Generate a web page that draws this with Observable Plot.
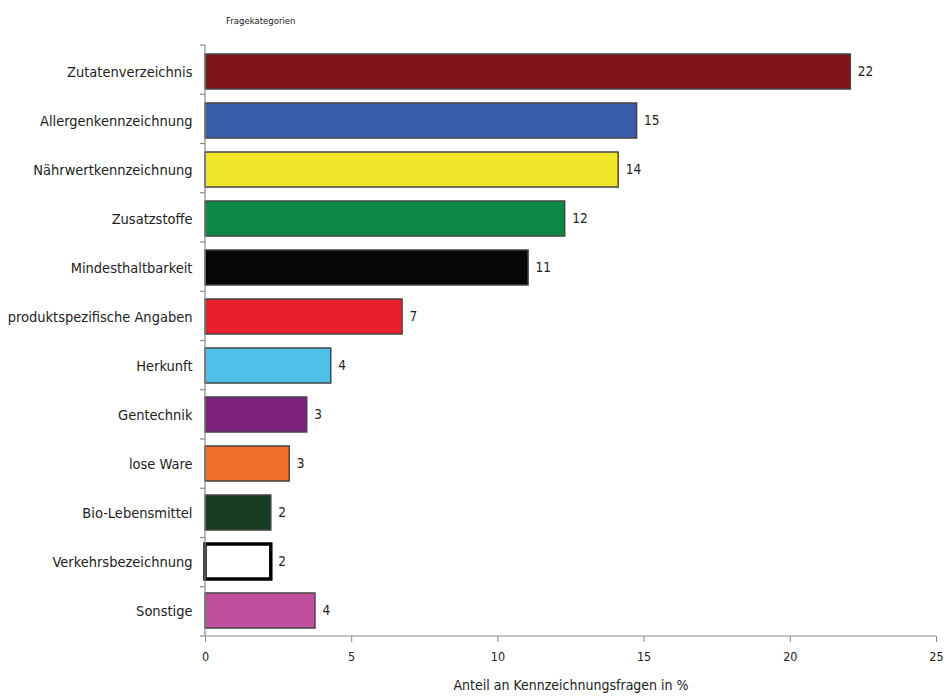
<!DOCTYPE html>
<html>
<head>
<meta charset="utf-8">
<script src="https://cdn.jsdelivr.net/npm/d3@7"></script>
<script src="https://cdn.jsdelivr.net/npm/@observablehq/plot@0.6"></script>
<style>
  html, body { margin: 0; padding: 0; background: #fff; }
  #wrap { position: relative; width: 946px; height: 700px; }
  #title { position: absolute; left: 226px; top: 15px; font: 9.5px "DejaVu Sans Condensed", sans-serif; color: #222; }
  svg { font-family: "DejaVu Sans Condensed", sans-serif; }
</style>
</head>
<body>
<div id="wrap"><div id="title">Fragekategorien</div></div>
<script>
const categories = ["Zutatenverzeichnis", "Allergenkennzeichnung", "Nährwertkennzeichnung", "Zusatzstoffe", "Mindesthaltbarkeit", "produktspezifische Angaben", "Herkunft", "Gentechnik", "lose Ware", "Bio-Lebensmittel", "Verkehrsbezeichnung", "Sonstige"];
const values = [22.07, 14.76, 14.13, 12.3, 11.05, 6.74, 4.3, 3.48, 2.88, 2.25, 2.25, 3.76];
const valueLabels = ["22", "15", "14", "12", "11", "7", "4", "3", "3", "2", "2", "4"];
const fills = ["#7f141a", "#3a5dab", "#f2e62a", "#0c8a45", "#060606", "#e8202b", "#4fc0e8", "#7b227e", "#f07127", "#163d21", "#ffffff", "#c0509d"];
const strokes = ["#444", "#444", "#444", "#444", "#444", "#444", "#444", "#444", "#444", "#444", "#000", "#444"];
const strokeWidths = [1.5, 1.5, 1.5, 1.5, 1.5, 1.5, 1.5, 1.5, 1.5, 1.5, 3.5, 1.5];
const xTicks = [0, 5, 10, 15, 20, 25];
const xLabel = "Anteil an Kennzeichnungsfragen in %";

const data = categories.map((c, i) => ({
  cat: c, value: values[i], label: valueLabels[i],
  fill: fills[i], stroke: strokes[i], sw: strokeWidths[i]
}));

function axisLines(index, scales, values, dims) {
  const g = d3.create("svg:g").attr("stroke", "#8a8a8a").attr("stroke-width", 1.2).attr("fill", "none");
  const top = dims.marginTop, bottom = dims.height - dims.marginBottom;
  const left = dims.marginLeft, right = dims.width - dims.marginRight;
  g.append("line").attr("x1", left).attr("x2", left).attr("y1", top).attr("y2", bottom);
  g.append("line").attr("x1", left).attr("x2", right).attr("y1", bottom).attr("y2", bottom);
  const n = categories.length;
  const step = (bottom - top) / n;
  for (let i = 0; i <= n; i++) {
    const yy = top + i * step;
    g.append("line").attr("x1", left - 5).attr("x2", left).attr("y1", yy).attr("y2", yy);
  }
  return g.node();
}

const chart = Plot.plot({
  width: 946,
  height: 700,
  marginTop: 45,
  marginBottom: 64,
  marginLeft: 205,
  marginRight: 10,
  style: { fontSize: "13px", color: "#222", background: "#fff" },
  x: { domain: [0, 25], ticks: xTicks, label: null },
  y: { domain: categories, paddingInner: 0.29, paddingOuter: 0.145, label: null },
  marks: [
    Plot.barX(data, { y: "cat", x1: 0, x2: "value", fill: d => d.fill, stroke: d => d.stroke, strokeWidth: d => d.sw }),
    Plot.text(data, { y: "cat", x: "value", text: "label", dx: 7, textAnchor: "start", fill: "#222", fontSize: 13.5 }),
    Plot.axisY({ tickSize: 0, tickPadding: 13, label: null, fontSize: 14.5 }),
    Plot.axisX({ ticks: xTicks, tickSize: 6, tickPadding: 10, stroke: "#8a8a8a", label: null, fontSize: 12.5 }),
    Plot.text([xLabel], { frameAnchor: "bottom", dy: 53, fill: "#222", fontSize: 14 }),
    axisLines
  ]
});
document.getElementById("wrap").appendChild(chart);
</script>
</body>
</html>
